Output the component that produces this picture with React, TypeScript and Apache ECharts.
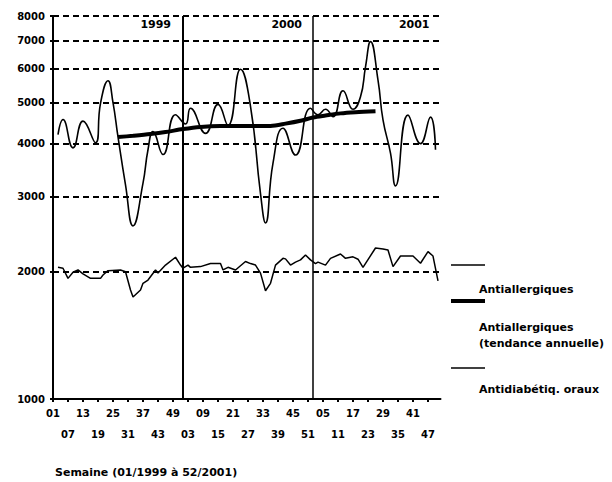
import React, { useEffect, useRef } from 'react';
import * as echarts from 'echarts';

// Categories: weeks 01/1999 .. 52/2001
const years = [1999, 2000, 2001];
const weeksPerYear = 52;
const weekCategories: string[] = [];
years.forEach((y) => {
  for (let w = 1; w <= weeksPerYear; w++) weekCategories.push(`${String(w).padStart(2, '0')}/${y}`);
});

// Y axis tick values (log scale)
const yTicks = [1000, 2000, 3000, 4000, 5000, 6000, 7000, 8000];

// Year labels and year start indices
const yearLabels = ['1999', '2000', '2001'];
const yearBounds = [0, 52, 104, 155];

// [week index, value]
const antiallergiques: [number, number][] = [
  [2, 4200], [4, 4560], [8, 3910], [12, 4520], [17, 4020], [19, 4980], [22, 5630], [24, 5000],
  [26, 4150], [29, 3200], [32, 2560], [36, 3230], [38, 3870], [40, 4270], [44, 3770], [49, 4680],
  [53, 4450], [55, 4850], [61, 4230], [66, 4950], [70, 4420], [75, 5990], [79, 4900], [83, 3050],
  [85, 2600], [88, 3600], [92, 4350], [97, 3760], [103, 4850], [106, 4680], [109, 4820], [112, 4630],
  [116, 5330], [120, 4820], [123, 5160], [125, 6070], [127, 6960], [130, 5650], [132, 4550],
  [135, 3800], [137, 3180], [142, 4670], [147, 4000], [151, 4620], [153, 3870],
];

const tendance: [number, number][] = [
  [26, 4145], [32, 4175], [39, 4215], [45, 4260], [52, 4330], [59, 4380], [67, 4400], [75, 4400],
  [82, 4400], [87, 4405], [93, 4460], [99, 4530], [104, 4610], [109, 4660], [115, 4715], [121, 4745],
  [129, 4770],
];

const antidiabetiques: [number, number][] = [
  [2, 2044], [4, 2034], [6, 1925], [8, 1990], [10, 2015], [12, 1972], [15, 1925], [19, 1925],
  [20, 1960], [22, 2007], [27, 2015], [29, 1996], [31, 1807], [32, 1740], [35, 1807], [36, 1874],
  [38, 1908], [41, 2015], [42, 1981], [45, 2069], [49, 2159], [51, 2069], [52, 2034], [54, 2069],
  [55, 2044], [59, 2052], [63, 2086], [67, 2086], [68, 2015], [70, 2044], [73, 2015], [77, 2110],
  [79, 2086], [81, 2069], [83, 1981], [85, 1800], [87, 1874], [89, 2069], [92, 2146], [93, 2140],
  [95, 2069], [97, 2103], [99, 2128], [101, 2186], [103, 2128], [105, 2086], [106, 2103], [109, 2069],
  [111, 2146], [115, 2198], [117, 2146], [120, 2164], [122, 2136], [124, 2044], [129, 2270], [132, 2259],
  [134, 2245], [136, 2052], [139, 2173], [144, 2173], [147, 2090], [150, 2226], [152, 2173], [154, 1900],
];

const seriesNames = ['Antiallergiques', 'Antiallergiques (tendance annuelle)', 'Antidiabétiq. oraux'];
const legendLabels = ['Antiallergiques', 'Antiallergiques\n(tendance annuelle)', 'Antidiabétiq. oraux'];
const xTitle = 'Semaine (01/1999 à 52/2001)';

const FONT = 'DejaVu Sans';

export default function App() {
  const ref = useRef<HTMLDivElement>(null);
  useEffect(() => {
    if (!ref.current) return;
    const chart = echarts.init(ref.current, undefined, { renderer: 'svg' });
    const iconTops = [259, 295, 362];
    const iconWidths = [1.5, 4, 1.5];
    const textTops = [281, 319, 381];
    const iconLegends = seriesNames.map((n, i) => ({
      data: [{ name: n, icon: 'rect', itemStyle: { color: '#000', borderWidth: 0 } }],
      left: 451,
      top: iconTops[i],
      itemWidth: 34,
      itemHeight: iconWidths[i],
      padding: 0,
      selectedMode: false,
      formatter: () => ' ',
      textStyle: { fontSize: 12, lineHeight: 12, color: '#000' },
    }));
    const textLegends = seriesNames.map((n, i) => ({
      data: [{ name: n, icon: 'rect', itemStyle: { opacity: 0 } }],
      left: 474,
      top: textTops[i],
      itemWidth: 0,
      itemHeight: 0,
      padding: 0,
      selectedMode: false,
      formatter: () => legendLabels[i],
      textStyle: { fontFamily: FONT, fontWeight: 'bold', fontSize: 11, lineHeight: 16, color: '#000' },
    }));
    chart.setOption({
      animation: false,
      title: {
        text: xTitle,
        left: 55,
        top: 467,
        padding: 0,
        textStyle: { fontFamily: FONT, fontWeight: 'bold', fontSize: 11, color: '#000' },
      },
      legend: [...iconLegends, ...textLegends],
      grid: { left: 53, right: 171.5, top: 16, bottom: 83, containLabel: false },
      xAxis: {
        type: 'category',
        data: weekCategories,
        boundaryGap: false,
        axisLine: { lineStyle: { color: '#000', width: 2 } },
        axisTick: { interval: 5, length: 3, lineStyle: { color: '#000', width: 2 } },
        axisLabel: {
          interval: 5,
          margin: 4,
          lineHeight: 21,
          fontFamily: FONT,
          fontWeight: 'bold',
          fontSize: 10,
          color: '#000',
          formatter: (value: string) => {
            const [w, y] = value.split('/');
            const idx = (Number(y) - 1999) * weeksPerYear + Number(w) - 1;
            return (idx / 6) % 2 === 0 ? w : '\n' + w;
          },
        },
        splitLine: { show: false },
      },
      yAxis: {
        type: 'log',
        logBase: 10,
        min: 1000,
        max: 8000,
        axisLine: { show: true, lineStyle: { color: '#000', width: 2 } },
        axisTick: { show: true, customValues: yTicks, length: 3, lineStyle: { color: '#000', width: 2 } },
        axisLabel: {
          customValues: yTicks,
          margin: 8,
          fontFamily: FONT,
          fontWeight: 'bold',
          fontSize: 10,
          color: '#000',
          formatter: (v: number) => String(Math.round(v)),
        },
        splitLine: { show: true, lineStyle: { color: '#000', width: 2, type: [6, 4] } },
        minorTick: { show: false },
      },
      series: [
        {
          name: seriesNames[0],
          type: 'line',
          data: antiallergiques,
          smooth: 0.5,
          symbol: 'none',
          showSymbol: false,
          lineStyle: { color: '#000', width: 1.6 },
          itemStyle: { color: '#000' },
          z: 3,
          markArea: {
            silent: true,
            itemStyle: { color: 'rgba(0,0,0,0)' },
            label: {
              show: true,
              position: 'insideTopRight',
              distance: 3,
              formatter: '{b}',
              fontFamily: FONT,
              fontWeight: 'bold',
              fontSize: 11,
              color: '#000',
            },
            data: yearLabels.map((yl, i) => [
              { name: yl, xAxis: yearBounds[i], label: { offset: [i === 0 ? -9 : -8, 0] } },
              { xAxis: yearBounds[i + 1] },
            ]),
          },
        },
        {
          name: seriesNames[1],
          type: 'line',
          data: tendance,
          smooth: 0.3,
          symbol: 'none',
          showSymbol: false,
          lineStyle: { color: '#000', width: 4 },
          itemStyle: { color: '#000' },
          z: 4,
        },
        {
          name: seriesNames[2],
          type: 'line',
          data: antidiabetiques,
          symbol: 'none',
          showSymbol: false,
          lineStyle: { color: '#000', width: 1.5 },
          itemStyle: { color: '#000' },
          z: 3,
          markLine: {
            silent: true,
            symbol: ['none', 'none'],
            label: { show: false },
            lineStyle: { color: '#000', type: 'solid', width: 2 },
            data: [{ xAxis: yearBounds[1] }, { xAxis: yearBounds[2], lineStyle: { width: 1.5 } }],
          },
        },
      ],
    });
    return () => chart.dispose();
  }, []);
  return (
    <div
      ref={ref}
      style={{ position: 'fixed', left: 0, top: 0, width: 612, height: 482, background: '#fff' }}
    />
  );
}
